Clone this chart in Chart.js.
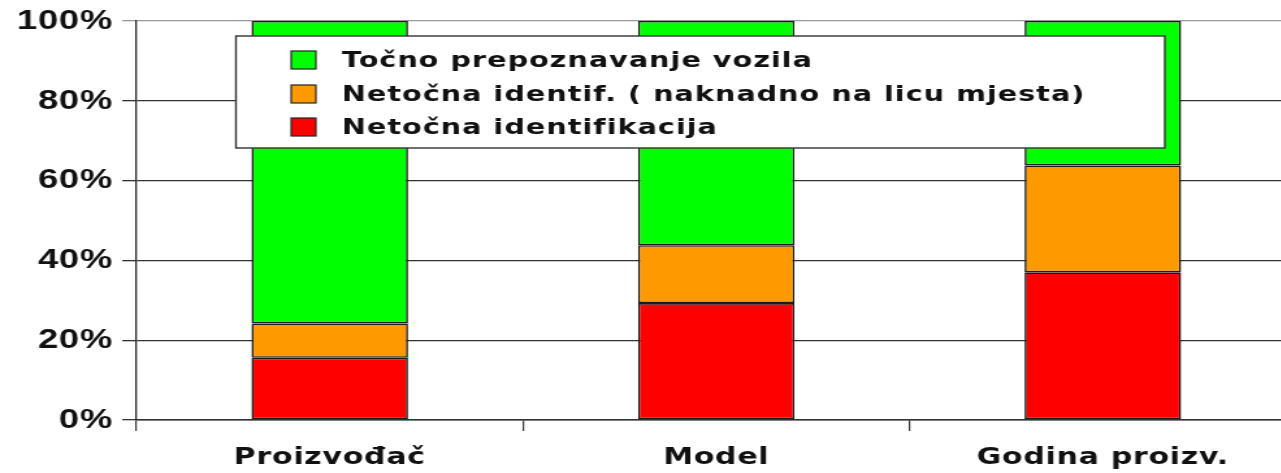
<!DOCTYPE html>
<html>
<head>
<meta charset="utf-8">
<script src="https://cdn.jsdelivr.net/npm/chart.js@4.4.1/dist/chart.umd.min.js"></script>
<style>
  html, body { margin:0; padding:0; background:#fff; overflow:hidden; }
  /* the source picture is stretched sideways, so the chart is too */
  #wrap { position:relative; width:997px; height:473px; transform:scaleX(1.3); transform-origin:0 0; }
</style>
</head>
<body>
<div id="wrap"><canvas id="chart"></canvas></div>
<script>
/* ── Data ─────────────────────────────────────── */
const categories = ['Proizvođač', 'Model', 'Godina proizv.'];
const seriesNames = [
  'Netočna identifikacija',
  'Netočna identif. ( naknadno na licu mjesta)',
  'Točno prepoznavanje vozila'
];
const netocna   = [15.6, 29.3, 37.0];
const naknadno  = [8.6, 14.5, 26.8];
const tocno     = [75.8, 56.2, 36.2];
const yTicks    = [0, 20, 40, 60, 80, 100];
const colors    = ['#ff0000', '#ff9900', '#00ff00'];

/* ── Legend box drawn over the bars ───────────── */
const boxLegend = {
  id: 'boxLegend',
  beforeDraw(chart) {
    if ('letterSpacing' in chart.ctx) chart.ctx.letterSpacing = '0.6px';
  },
  afterDatasetsDraw(chart) {
    const ctx = chart.ctx;
    const x0 = 181.5, y0 = 36, w = 714.5, h = 112;
    ctx.save();
    ctx.fillStyle = '#fff';
    ctx.fillRect(x0, y0, w, h);
    ctx.strokeStyle = '#333';
    ctx.lineWidth = 1.4;
    ctx.strokeRect(x0, y0, w, h);
    const rows = [2, 1, 0];
    const rowY = [60, 94, 127];
    ctx.font = 'bold 22px "DejaVu Sans"';
    ctx.textBaseline = 'middle';
    if ('letterSpacing' in ctx) ctx.letterSpacing = '0.8px';
    rows.forEach((di, i) => {
      const ds = chart.data.datasets[di];
      ctx.fillStyle = ds.backgroundColor;
      ctx.fillRect(224, rowY[i] - 9, 19, 18);
      ctx.strokeStyle = '#222';
      ctx.lineWidth = 1.2;
      ctx.strokeRect(224, rowY[i] - 9, 19, 18);
      ctx.fillStyle = '#111';
      ctx.fillText(ds.label, 263, rowY[i] + 1);
    });
    ctx.restore();
  }
};

new Chart(document.getElementById('chart'), {
  type: 'bar',
  data: {
    labels: categories,
    datasets: [netocna, naknadno, tocno].map((d, i) => ({
      label: seriesNames[i],
      data: d,
      backgroundColor: colors[i],
      borderColor: '#1a1a1a',
      borderWidth: 1.6,
      borderSkipped: false,
      barPercentage: 0.405,
      categoryPercentage: 1
    }))
  },
  options: {
    responsive: true,
    maintainAspectRatio: false,
    animation: false,
    layout: { padding: { top: 19, right: 0, left: 0, bottom: 0 } },
    plugins: { legend: { display: false }, tooltip: { enabled: false } },
    scales: {
      x: {
        stacked: true,
        offset: true,
        grid: { drawOnChartArea: false, offset: true, tickLength: 11, color: '#333', lineWidth: 1.2 },
        border: { color: '#333', width: 1.5 },
        ticks: { color: '#111', padding: 13, font: { family: '"DejaVu Sans"', size: 23, weight: 'bold' } },
        afterFit: s => { s.height = 53; }
      },
      y: {
        stacked: true,
        min: 0, max: 100,
        afterBuildTicks: s => { s.ticks = yTicks.map(v => ({ value: v })); },
        grid: {
          tickLength: 11,
          lineWidth: 1.3,
          color: c => c.tick && c.tick.value === 100 ? '#999' : '#333'
        },
        border: { color: '#222', width: 1.3 },
        ticks: {
          color: '#111',
          padding: 7,
          font: { family: '"Liberation Sans"', size: 28, weight: 'bold', lineHeight: 1 },
          callback: v => v + '%'
        },
        afterFit: s => { s.width = 105; }
      }
    }
  },
  plugins: [boxLegend]
});
</script>
</body>
</html>
